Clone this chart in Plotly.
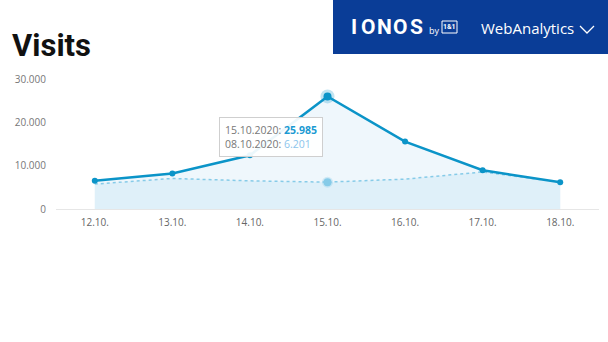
import plotly.graph_objects as go

# ---- data ----
categories = ["12.10.", "13.10.", "14.10.", "15.10.", "16.10.", "17.10.", "18.10."]
visits_current = [6500, 8200, 12400, 25985, 15550, 8950, 6150]
visits_previous = [5750, 7050, 6500, 6201, 6900, 8550, 6200]
y_tickvals = [0, 10000, 20000, 30000]
y_ticktext = ["0", "10.000", "20.000", "30.000"]
highlight_index = 3
tooltip_current_label = "15.10.2020"
tooltip_current_value = "25.985"
tooltip_previous_label = "08.10.2020"
tooltip_previous_value = "6.201"

W, H = 608, 342
L, R, T, B = 56, 9, 79, 133
PW, PH = W - L - R, H - T - B


def px(x):
    return (x - L) / PW


def py(y):
    return (H - B - y) / PH


LINE = "#0b94c8"
PREV = "#86cbe8"
FONT = "Open Sans, Segoe UI, sans-serif"

fig = go.Figure()

# fills
fig.add_trace(go.Scatter(x=categories, y=visits_current, mode="none", fill="tozeroy",
                         fillcolor="rgba(205,230,246,0.32)", hoverinfo="skip"))
fig.add_trace(go.Scatter(x=categories, y=visits_previous, mode="none", fill="tozeroy",
                         fillcolor="rgba(205,230,246,0.45)", hoverinfo="skip"))

# previous period dotted line
fig.add_trace(go.Scatter(x=categories, y=visits_previous, mode="lines",
                         line=dict(color=PREV, width=1.5, dash="dot"), hoverinfo="skip"))
# current line
fig.add_trace(go.Scatter(x=categories, y=visits_current, mode="lines+markers",
                         line=dict(color=LINE, width=2.5),
                         marker=dict(color=LINE, size=6), hoverinfo="skip",
                         cliponaxis=False))

# highlighted points (halo + dot)
hx = [categories[highlight_index]]
fig.add_trace(go.Scatter(x=hx, y=[visits_current[highlight_index]], mode="markers",
                         marker=dict(color="rgba(11,148,200,0.25)", size=14), cliponaxis=False))
fig.add_trace(go.Scatter(x=hx, y=[visits_current[highlight_index]], mode="markers",
                         marker=dict(color=LINE, size=8), cliponaxis=False))
fig.add_trace(go.Scatter(x=hx, y=[visits_previous[highlight_index]], mode="markers",
                         marker=dict(color="rgba(134,203,232,0.3)", size=11), cliponaxis=False))
fig.add_trace(go.Scatter(x=hx, y=[visits_previous[highlight_index]], mode="markers",
                         marker=dict(color=PREV, size=8), cliponaxis=False))

shapes = []
annotations = []

# banner
shapes.append(dict(type="rect", xref="paper", yref="paper", x0=px(333), x1=px(612),
                   y0=py(54), y1=py(-4), fillcolor="#0a3d97", line=dict(width=0), layer="above"))

# IONOS letters
for ch, cx in zip("IONOS", [354, 368, 384, 400, 416]):
    annotations.append(dict(text=ch, xref="paper", yref="paper", x=px(cx), y=py(27),
                            xanchor="center", yanchor="middle", showarrow=False,
                            font=dict(family="Roboto", size=21,
                                      color="white", weight="bold")))
annotations.append(dict(text="by", xref="paper", yref="paper", x=px(427), y=py(30),
                        xanchor="left", yanchor="middle", showarrow=False,
                        font=dict(family=FONT, size=9, color="white")))
shapes.append(dict(type="rect", xref="paper", yref="paper", x0=px(442), x1=px(457),
                   y0=py(33), y1=py(21), line=dict(color="white", width=1), layer="above"))
annotations.append(dict(text="1&1", xref="paper", yref="paper", x=px(449.5), y=py(27),
                        xanchor="center", yanchor="middle", showarrow=False,
                        font=dict(family="Roboto", size=7, color="white", weight="bold")))
annotations.append(dict(text="WebAnalytics", xref="paper", yref="paper", x=px(479), y=py(28),
                        xanchor="left", yanchor="middle", showarrow=False,
                        font=dict(family=FONT, size=15, color="white")))
shapes.append(dict(type="path", xref="paper", yref="paper",
                   path=f"M {px(580)},{py(26)} L {px(587)},{py(33)} L {px(594)},{py(26)}",
                   line=dict(color="white", width=1.3), layer="above"))

# tooltip
annotations.append(dict(
    text=(f"{tooltip_current_label}: <b><span style='color:#1a9ad2'>{tooltip_current_value}</span></b><br>"
          f"{tooltip_previous_label}: <span style='color:#8cc4ec'>{tooltip_previous_value}</span>"),
    xref="paper", yref="paper", x=px(219), y=py(117), xanchor="left", yanchor="top",
    showarrow=False, align="left", bgcolor="rgba(255,255,255,0.92)", bordercolor="#cfcfcf",
    borderwidth=1, borderpad=5, font=dict(family=FONT, size=10.5, color="#777777")))

fig.update_layout(
    width=W, height=H, margin=dict(l=L, r=R, t=T, b=B),
    paper_bgcolor="white", plot_bgcolor="white", showlegend=False,
    title=dict(text="<b>Visits</b>", xref="container", yref="container", x=12 / W,
               y=1 - 45 / H, xanchor="left", yanchor="middle",
               font=dict(family="Roboto", size=31, color="#111111")),
    xaxis=dict(type="category", range=[-0.5, 6.5], showgrid=False, zeroline=False,
               showline=True, linecolor="#e6e6e6", linewidth=1, ticks="",
               tickfont=dict(family=FONT, size=10, color="#666666"), ticklabelstandoff=4),
    yaxis=dict(range=[0, 30000], tickvals=y_tickvals, ticktext=y_ticktext, showgrid=False,
               zeroline=False, showline=False, ticks="",
               tickfont=dict(family=FONT, size=10, color="#777777"), ticklabelstandoff=9),
    shapes=shapes, annotations=annotations,
)

fig.write_html("out.html")
